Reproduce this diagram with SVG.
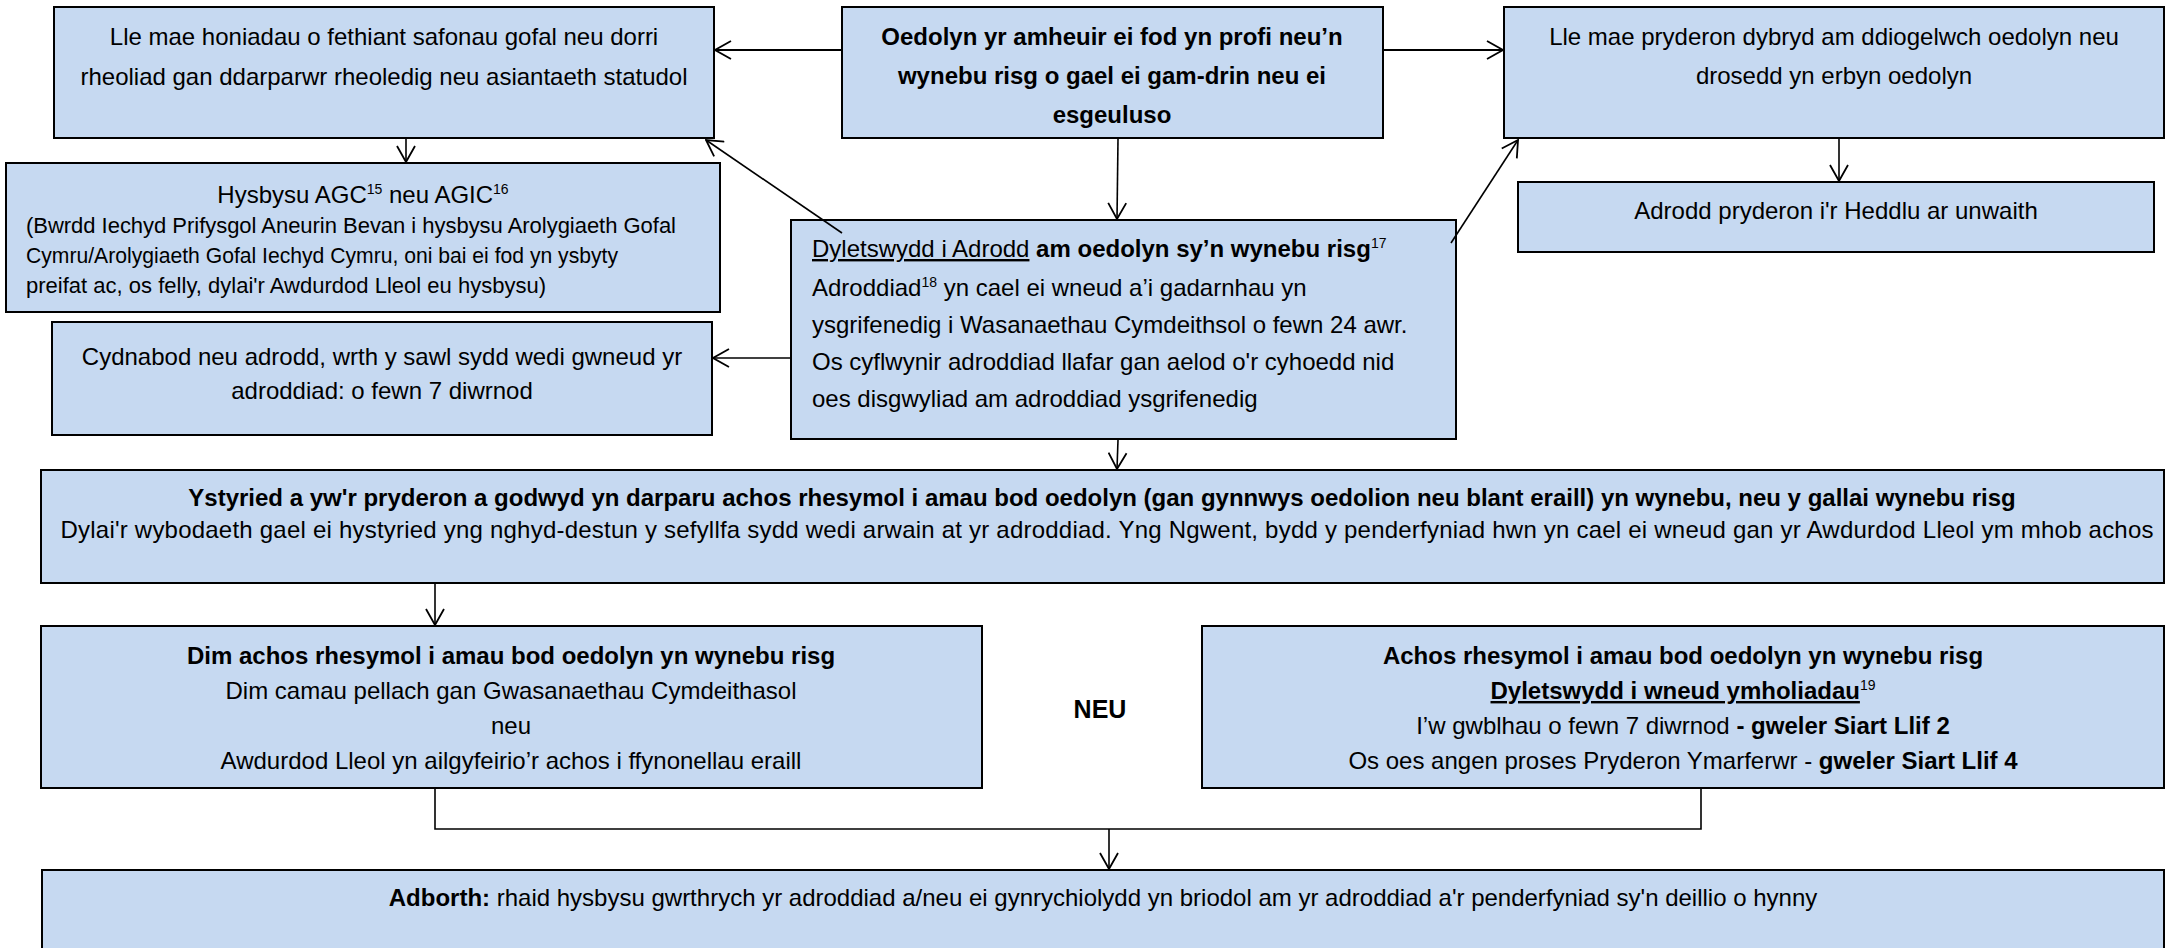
<svg xmlns="http://www.w3.org/2000/svg" width="2172" height="948" viewBox="0 0 2172 948">
<style>
.box{fill:#C6D9F1;stroke:#000;stroke-width:2}
text{font-family:"Liberation Sans",Arial,sans-serif;font-size:24px;fill:#000}
.c{text-anchor:middle}
.b{font-weight:bold}
.s{font-size:22px}
.sup{font-size:14px}
.ln{fill:none;stroke:#000;stroke-width:1.6}
.lt{fill:none;stroke:#000;stroke-width:2.2}
</style>
<defs>
<marker id="ah" viewBox="0 0 18 20" refX="17" refY="10" markerWidth="18" markerHeight="20" markerUnits="userSpaceOnUse" orient="auto">
<path d="M1,1 L17,10 L1,19" fill="none" stroke="#000" stroke-width="1.8"/>
</marker>
</defs>

<g id="nodeA">
<rect class="box" x="54" y="7" width="660" height="131"/>
<text class="c" x="384" y="45">Lle mae honiadau o fethiant safonau gofal neu dorri</text>
<text class="c" x="384" y="85">rheoliad gan ddarparwr rheoledig neu asiantaeth statudol</text>
</g>

<g id="nodeC">
<rect class="box" x="842" y="7" width="541" height="131"/>
<text class="c b" x="1112" y="45">Oedolyn yr amheuir ei fod yn profi neu’n</text>
<text class="c b" x="1112" y="84">wynebu risg o gael ei gam-drin neu ei</text>
<text class="c b" x="1112" y="123">esgeuluso</text>
</g>

<g id="nodeD">
<rect class="box" x="1504" y="7" width="660" height="131"/>
<text class="c" x="1834" y="45">Lle mae pryderon dybryd am ddiogelwch oedolyn neu</text>
<text class="c" x="1834" y="84">drosedd yn erbyn oedolyn</text>
</g>

<g id="nodeB">
<rect class="box" x="6" y="163" width="714" height="149"/>
<text class="c" x="363" y="203">Hysbysu AGC<tspan class="sup" dy="-9">15</tspan><tspan dy="9"> neu AGIC</tspan><tspan class="sup" dy="-9">16</tspan></text>
<text class="s" x="26" y="233" textLength="650" lengthAdjust="spacing">(Bwrdd Iechyd Prifysgol Aneurin Bevan i hysbysu Arolygiaeth Gofal</text>
<text class="s" x="26" y="263" textLength="592" lengthAdjust="spacingAndGlyphs">Cymru/Arolygiaeth Gofal Iechyd Cymru, oni bai ei fod yn ysbyty</text>
<text class="s" x="26" y="293" textLength="520" lengthAdjust="spacing">preifat ac, os felly, dylai'r Awdurdod Lleol eu hysbysu)</text>
</g>

<g id="nodeE">
<rect class="box" x="1518" y="182" width="636" height="70"/>
<text class="c" x="1836" y="219">Adrodd pryderon i'r Heddlu ar unwaith</text>
</g>

<g id="nodeF">
<rect class="box" x="791" y="220" width="665" height="219"/>
<text x="812" y="257"><tspan text-decoration="underline">Dyletswydd i Adrodd</tspan><tspan class="b"> am oedolyn sy’n wynebu risg</tspan><tspan class="sup" dy="-9">17</tspan></text>
<text x="812" y="296">Adroddiad<tspan class="sup" dy="-9">18</tspan><tspan dy="9"> yn cael ei wneud a’i gadarnhau yn</tspan></text>
<text x="812" y="333">ysgrifenedig i Wasanaethau Cymdeithsol o fewn 24 awr.</text>
<text x="812" y="370">Os cyflwynir adroddiad llafar gan aelod o'r cyhoedd nid</text>
<text x="812" y="407">oes disgwyliad am adroddiad ysgrifenedig</text>
</g>

<g id="nodeG">
<rect class="box" x="52" y="322" width="660" height="113"/>
<text class="c" x="382" y="365">Cydnabod neu adrodd, wrth y sawl sydd wedi gwneud yr</text>
<text class="c" x="382" y="399">adroddiad: o fewn 7 diwrnod</text>
</g>

<g id="nodeH">
<rect class="box" x="41" y="470" width="2123" height="113"/>
<text class="c b" x="1102" y="506">Ystyried a yw'r pryderon a godwyd yn darparu achos rhesymol i amau bod oedolyn (gan gynnwys oedolion neu blant eraill) yn wynebu, neu y gallai wynebu risg</text>
<text class="c" x="1107" y="538" textLength="2093" lengthAdjust="spacing">Dylai'r wybodaeth gael ei hystyried yng nghyd-destun y sefyllfa sydd wedi arwain at yr adroddiad. Yng Ngwent, bydd y penderfyniad hwn yn cael ei wneud gan yr Awdurdod Lleol ym mhob achos</text>
</g>

<g id="nodeI">
<rect class="box" x="41" y="626" width="941" height="162"/>
<text class="c b" x="511" y="664">Dim achos rhesymol i amau bod oedolyn yn wynebu risg</text>
<text class="c" x="511" y="699">Dim camau pellach gan Gwasanaethau Cymdeithasol</text>
<text class="c" x="511" y="734">neu</text>
<text class="c" x="511" y="769">Awdurdod Lleol yn ailgyfeirio’r achos i ffynonellau eraill</text>
</g>

<g id="nodeNEU">
<text class="c b" x="1100" y="718" style="font-size:25px">NEU</text>
</g>

<g id="nodeJ">
<rect class="box" x="1202" y="626" width="962" height="162"/>
<text class="c b" x="1683" y="664">Achos rhesymol i amau bod oedolyn yn wynebu risg</text>
<text class="c" x="1683" y="699"><tspan class="b" text-decoration="underline">Dyletswydd i wneud ymholiadau</tspan><tspan class="sup" dy="-9">19</tspan></text>
<text class="c" x="1683" y="734">I’w gwblhau o fewn 7 diwrnod<tspan class="b"> - gweler Siart Llif 2</tspan></text>
<text class="c" x="1683" y="769">Os oes angen proses Pryderon Ymarferwr - <tspan class="b">gweler Siart Llif 4</tspan></text>
</g>

<g id="nodeK">
<rect class="box" x="42" y="870" width="2122" height="90"/>
<text class="c" x="1103" y="906"><tspan class="b">Adborth:</tspan> rhaid hysbysu gwrthrych yr adroddiad a/neu ei gynrychiolydd yn briodol am yr adroddiad a'r penderfyniad sy'n deillio o hynny</text>
</g>

<g id="connectors">
<line class="lt" x1="842" y1="50" x2="715" y2="50" marker-end="url(#ah)"/>
<line class="lt" x1="1383" y1="50" x2="1503" y2="50" marker-end="url(#ah)"/>
<line class="ln" x1="406" y1="139" x2="406" y2="162" marker-end="url(#ah)"/>
<line class="ln" x1="842" y1="233" x2="706" y2="140" marker-end="url(#ah)"/>
<line class="ln" x1="1118" y1="139" x2="1117" y2="219" marker-end="url(#ah)"/>
<line class="ln" x1="1451" y1="243" x2="1518" y2="140" marker-end="url(#ah)"/>
<line class="ln" x1="1839" y1="139" x2="1839" y2="181" marker-end="url(#ah)"/>
<line class="ln" x1="790" y1="358" x2="713" y2="358" marker-end="url(#ah)"/>
<line class="ln" x1="1118" y1="440" x2="1117" y2="469" marker-end="url(#ah)"/>
<line class="ln" x1="435" y1="584" x2="435" y2="625" marker-end="url(#ah)"/>
<polyline class="ln" points="435,789 435,829 1701,829 1701,789"/>
<line class="ln" x1="1109" y1="829" x2="1109" y2="869" marker-end="url(#ah)"/>
</g>
</svg>
